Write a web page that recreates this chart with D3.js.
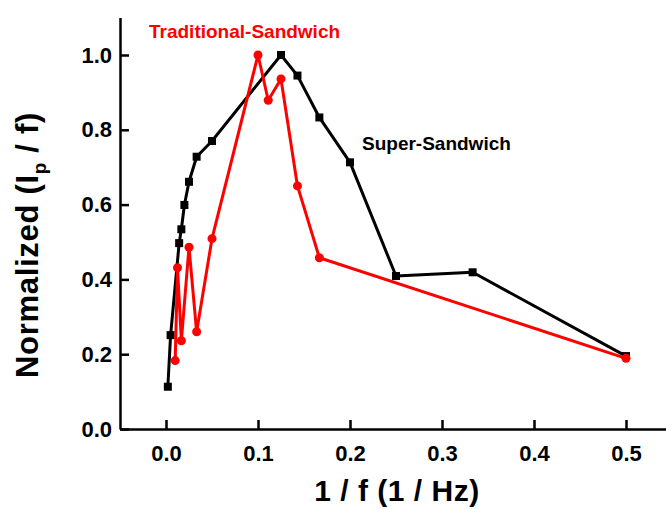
<!DOCTYPE html>
<html>
<head>
<meta charset="utf-8">
<script src="https://cdn.jsdelivr.net/npm/d3@7"></script>
<style>
  body { margin: 0; background: #fff; }
  text { font-family: "Liberation Sans", Arial, sans-serif; font-weight: bold; }
</style>
</head>
<body>
<div id="chart"></div>
<script>
// Super-Sandwich (black squares)
const superX = [0.002, 0.005, 0.0143, 0.0167, 0.02, 0.025, 0.0333, 0.05, 0.125, 0.1429, 0.1667, 0.2, 0.25, 0.3333, 0.5];
const superY = [0.113, 0.251, 0.497, 0.534, 0.599, 0.661, 0.728, 0.770, 1.0, 0.945, 0.833, 0.713, 0.409, 0.419, 0.195];

// Traditional-Sandwich (red circles)
const tradX = [0.01, 0.0125, 0.0167, 0.025, 0.0333, 0.05, 0.1, 0.1111, 0.125, 0.1429, 0.1667, 0.5];
const tradY = [0.183, 0.431, 0.236, 0.486, 0.260, 0.509, 1.0, 0.879, 0.936, 0.650, 0.458, 0.189];

const xTicks = [0.0, 0.1, 0.2, 0.3, 0.4, 0.5];
const yTicks = [0.0, 0.2, 0.4, 0.6, 0.8, 1.0];

const W = 666, H = 509;

const svg = d3.select("#chart")
  .append("svg")
    .attr("width", W)
    .attr("height", H);

const x = d3.scaleLinear()
  .domain([-0.05, 0.55])
  .range([120, 672]);

const y = d3.scaleLinear()
  .domain([0, 1.1])
  .range([429, 17.6]);

// axes, ticks pointing inward
const xAxis = svg.append("g")
  .attr("transform", `translate(0, ${y(0)})`)
  .call(d3.axisBottom(x).tickValues(xTicks).tickFormat(d3.format(".1f"))
    .tickSizeInner(-9).tickSizeOuter(0).tickPadding(16));

const yAxis = svg.append("g")
  .attr("transform", `translate(${x(-0.05)}, 0)`)
  .call(d3.axisLeft(y).tickValues(yTicks).tickFormat(d3.format(".1f"))
    .tickSizeInner(-9).tickSizeOuter(0).tickPadding(8));

[xAxis, yAxis].forEach(function(a) {
  a.select(".domain").attr("stroke", "#000").attr("stroke-width", 2.5);
  a.selectAll(".tick line").attr("stroke", "#000").attr("stroke-width", 2.5);
  a.selectAll(".tick text")
    .attr("fill", "#000")
    .style("font-size", "22px")
    .style("font-family", "'Liberation Sans', Arial, sans-serif")
    .style("font-weight", "bold");
});
xAxis.selectAll(".tick text").attr("dy", "0.71em");

const line = d3.line()
  .x(function(d) { return x(d[0]) })
  .y(function(d) { return y(d[1]) });

const superData = superX.map(function(v, i) { return [v, superY[i]] });
const tradData = tradX.map(function(v, i) { return [v, tradY[i]] });

// black series
svg.append("path")
  .datum(superData)
  .attr("fill", "none")
  .attr("stroke", "#000")
  .attr("stroke-width", 3)
  .attr("stroke-linejoin", "round")
  .attr("d", line);

svg.append("g")
  .selectAll("rect")
  .data(superData)
  .join("rect")
    .attr("x", function(d) { return x(d[0]) - 4 })
    .attr("y", function(d) { return y(d[1]) - 4 })
    .attr("width", 8)
    .attr("height", 8)
    .attr("fill", "#000");

// red series
svg.append("path")
  .datum(tradData)
  .attr("fill", "none")
  .attr("stroke", "#ff0000")
  .attr("stroke-width", 3)
  .attr("stroke-linejoin", "round")
  .attr("d", line);

svg.append("g")
  .selectAll("circle")
  .data(tradData)
  .join("circle")
    .attr("cx", function(d) { return x(d[0]) })
    .attr("cy", function(d) { return y(d[1]) })
    .attr("r", 4.5)
    .attr("fill", "#ff0000");

// series labels
svg.append("text")
  .attr("x", 149)
  .attr("y", 38)
  .attr("fill", "#ff0000")
  .style("font-size", "19px")
  .text("Traditional-Sandwich");

svg.append("text")
  .attr("x", 362)
  .attr("y", 150)
  .attr("fill", "#000")
  .style("font-size", "19px")
  .text("Super-Sandwich");

// axis titles
svg.append("text")
  .attr("x", 397)
  .attr("y", 501)
  .attr("text-anchor", "middle")
  .style("font-size", "30px")
  .style("letter-spacing", "0.5px")
  .text("1 / f (1 / Hz)");

const yt = svg.append("text")
  .attr("transform", "translate(38, 245) rotate(-90)")
  .attr("text-anchor", "middle")
  .style("font-size", "31px")
  .style("letter-spacing", "0.7px");
yt.append("tspan").text("Normalized (I");
yt.append("tspan").attr("dy", 8).style("font-size", "19px").text("p");
yt.append("tspan").attr("dy", -8).text(" / f)");
</script>
</body>
</html>
